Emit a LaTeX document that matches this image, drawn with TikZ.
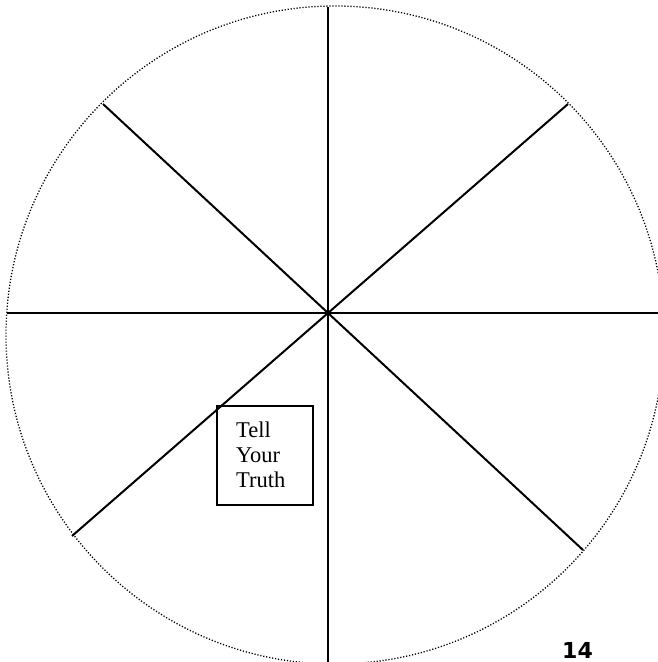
\documentclass[tikz,border=0pt]{standalone}
\usepackage{fontspec}
\setmainfont{Liberation Serif}
\newfontfamily\numfont{DejaVu Sans}
\begin{document}
\begin{tikzpicture}[x=1pt,y=-1pt,
  spoke/.style={line width=2pt, black},
  rim/.style={line width=1.3pt, dash pattern=on 1.2pt off 1.8pt, black},
  labelbox/.style={draw, line width=2pt, minimum width=96pt, minimum height=99pt, inner sep=0pt, anchor=north west}]
\useasboundingbox (0,0) rectangle (658,662);
\clip (0,0) rectangle (658,662);
\draw[rim] (335,335) circle (329);
\coordinate (c) at (328,313);
\coordinate (n) at (328,7);
\coordinate (s) at (328,662);
\coordinate (w) at (7,313);
\coordinate (e) at (658,313);
\coordinate (nw) at (103,104);
\coordinate (ne) at (568,104);
\coordinate (sw) at (72,536);
\coordinate (se) at (583,550);
\draw[spoke] (n) -- (s);
\draw[spoke] (w) -- (e);
\draw[spoke] (nw) -- (c) -- (se);
\draw[spoke] (ne) -- (c) -- (sw);
\node[labelbox] (box) at (216,405) {};
\node[anchor=base west, align=left, inner sep=0pt, font=\fontsize{22.5}{25}\selectfont] (txt) at (236,487) {Tell\\Your\\Truth};
\node[anchor=base west, inner sep=0pt, font=\numfont\bfseries\fontsize{22}{26}\selectfont] (pg) at (562,658) {14};
\end{tikzpicture}
\end{document}
